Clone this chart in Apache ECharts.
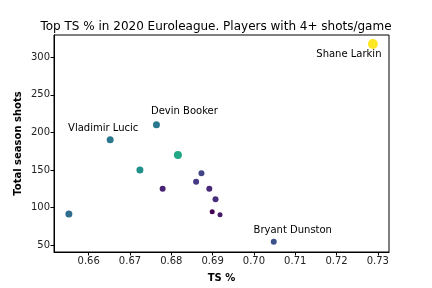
<!DOCTYPE html>
<html>
<head>
<meta charset="utf-8">
<script src="https://cdn.jsdelivr.net/npm/echarts@6/dist/echarts.min.js"></script>
<style>html,body{margin:0;padding:0;background:#fff}#c{width:432px;height:288px}</style>
</head>
<body>
<div id="c"></div>
<script>
const players = ["Shane Larkin","Devin Booker","Vladimir Lucic","","","","","","","","","","","Bryant Dunston"];
const tsPct = [0.7288,0.6764,0.6652,0.6552,0.6724,0.6816,0.6779,0.6873,0.6860,0.6892,0.6907,0.6899,0.6918,0.7048];
const shots = [317.7,210.2,190.3,91.4,150,170,125,145.6,134.3,125,111,94.4,90.4,54.4];
const pointColors = ["#fde725","#2a788e","#2a788e","#2f6c8e","#21918c","#22a884","#482475","#414487","#443983","#482878","#472d7b","#440154","#481a6c","#3b528b"];
const pointSizes = [10,7,7,7,7,8,6,6,6,6,6,5,5,6];
const xTicks = [0.66,0.67,0.68,0.69,0.70,0.71,0.72,0.73];
const yTicks = [50,100,150,200,250,300];
const labelOffsets = {"Shane Larkin":[-24,10],"Devin Booker":[28,-13],"Vladimir Lucic":[-7,-11],"Bryant Dunston":[19,-11]};

const data = tsPct.map((x,i)=>{
  const s = pointSizes[i];
  const off = labelOffsets[players[i]];
  return {
    value:[x,shots[i]],
    symbolSize: s,
    itemStyle:{color:pointColors[i]},
    label: players[i] ? {show:true, formatter: players[i], position:[s/2+off[0], s/2+off[1]], align:'center', verticalAlign:'middle'} : {show:false}
  };
});

const chart = echarts.init(document.getElementById('c'));
chart.setOption({
  animation:false,
  backgroundColor:'#fff',
  textStyle:{fontFamily:'DejaVu Sans'},
  title:{text:'Top TS % in 2020 Euroleague. Players with 4+ shots/game', left:'center', top:16,
    textStyle:{fontSize:12, fontWeight:'normal', color:'#000', fontFamily:'DejaVu Sans'}},
  grid:{left:54, right:43, top:35, bottom:36, show:true, borderColor:'#000', borderWidth:1, backgroundColor:'transparent'},
  xAxis:{type:'value', min:0.6516, max:0.7327,
    name:'TS %', nameLocation:'middle', nameGap:21, nameMoveOverlap:false,
    nameTextStyle:{fontSize:10, fontWeight:'bold', color:'#000', fontFamily:'DejaVu Sans'},
    axisLine:{show:true, lineStyle:{color:'#000'}},
    axisTick:{show:true, length:3.5, lineStyle:{color:'#000'}, customValues:xTicks},
    axisLabel:{fontSize:10, color:'#222', margin:4, customValues:xTicks, formatter:v=>v.toFixed(2)},
    splitLine:{show:false}},
  yAxis:{type:'value', min:40.7, max:329.7,
    name:'Total season shots', nameLocation:'middle', nameGap:31, nameMoveOverlap:false,
    nameTextStyle:{fontSize:10, fontWeight:'bold', color:'#000', fontFamily:'DejaVu Sans'},
    axisLine:{show:true, lineStyle:{color:'#000'}},
    axisTick:{show:true, length:3.5, lineStyle:{color:'#000'}, customValues:yTicks},
    axisLabel:{fontSize:10, color:'#222', margin:4, customValues:yTicks},
    splitLine:{show:false}},
  series:[{type:'scatter', data:data, itemStyle:{opacity:1},
    label:{fontSize:10, color:'#000', fontFamily:'DejaVu Sans'},
    labelLayout:{hideOverlap:false}
  }]
});
</script>
</body>
</html>
